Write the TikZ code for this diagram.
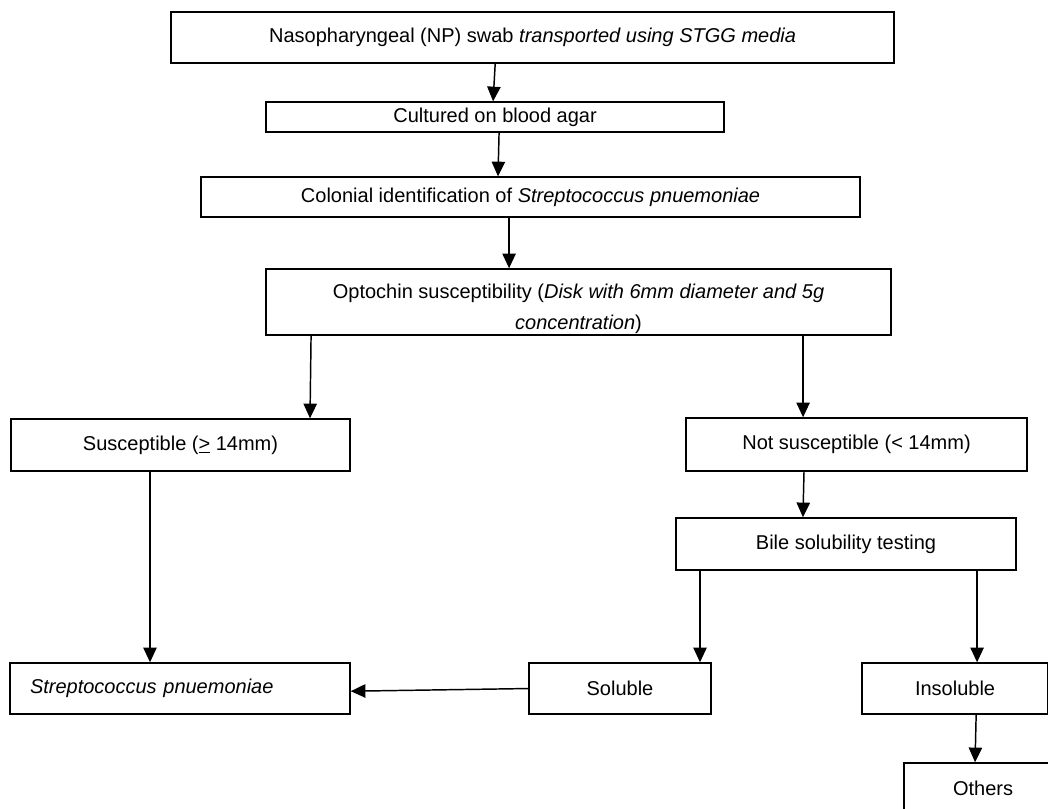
\documentclass[tikz,border=0pt]{standalone}
\usepackage{fontspec}
\setmainfont{Liberation Sans}
\usepackage{tikz}
\usetikzlibrary{arrows.meta,positioning}

\begin{document}
\begin{tikzpicture}[
  x=1pt, y=-1pt,
  font=\fontsize{15}{18}\selectfont,
  box/.style={draw, line width=1.1pt, inner sep=0pt, align=center},
  arrow/.style={-{Triangle[length=11pt,width=10pt]}, line width=1.1pt}
]
\useasboundingbox (0,0) rectangle (786,606.75);
\node[box, minimum width=542.3pt, minimum height=38.3pt] (swab) at (399.4,28.1) {Nasopharyngeal (NP) swab \textit{transported using STGG media}};
\node[box, minimum width=343.5pt, minimum height=22.5pt] (culture) at (371.3,87.8) {Cultured on blood agar};
\node[box, minimum width=494.3pt, minimum height=30pt] (colonial) at (397.9,147.8) {Colonial identification of \textit{Streptococcus pnuemoniae}};
\node[box, minimum width=468.8pt, minimum height=49.5pt] (optochin) at (433.9,226.5) {\rule{0pt}{21pt}Optochin susceptibility (\textit{Disk with 6mm diameter and 5g}\\[5pt]\textit{concentration})};
\node[box, minimum width=254.3pt, minimum height=39pt] (suscept) at (135.4,333.8) {Susceptible (\underline{>} 14mm)};
\node[box, minimum width=255.8pt, minimum height=39.8pt] (notsuscept) at (642.4,333.4) {Not susceptible (< 14mm)};
\node[box, minimum width=255pt, minimum height=39pt] (bile) at (634.5,408) {Bile solubility testing};
\node[box, minimum height=38.3pt, text width=225pt, inner xsep=15pt, align=left] (strep) at (135,516.4) {\textit{Streptococcus pnuemoniae}};
\node[box, minimum width=136.5pt, minimum height=38.3pt] (soluble) at (465,516.4) {Soluble};
\node[box, minimum width=139.5pt, minimum height=38.3pt] (insoluble) at (716.3,516.4) {Insoluble};
\node[box, minimum width=118.5pt, minimum height=38.3pt] (others) at (737.3,591.4) {Others};
\draw[arrow] ([xshift=-28pt]swab.south) -- ([xshift=-1.5pt]culture.north);
\draw[arrow] ([xshift=3pt]culture.south) -- ([xshift=-24.4pt]colonial.north);
\draw[arrow] ([xshift=-16.1pt]colonial.south) -- ([xshift=-52.1pt]optochin.north);
\draw[arrow] ([xshift=-200.6pt]optochin.south) -- ([xshift=97.1pt]suscept.north);
\draw[arrow] ([xshift=168.4pt]optochin.south) -- ([xshift=-40.1pt]notsuscept.north);
\draw[arrow] ([xshift=-39.4pt]notsuscept.south) -- ([xshift=-32.3pt]bile.north);
\draw[arrow] ([xshift=-22.9pt]suscept.south) -- ([xshift=-22.5pt]strep.north);
\draw[arrow] ([xshift=-109.5pt]bile.south) -- ([xshift=60pt]soluble.north);
\draw[arrow] ([xshift=98.3pt]bile.south) -- ([xshift=16.5pt]insoluble.north);
\draw[arrow] (soluble.west) -- ([yshift=-2pt]strep.east);
\draw[arrow] ([xshift=15.8pt]insoluble.south) -- ([xshift=-6pt]others.north);
\end{tikzpicture}
\end{document}
